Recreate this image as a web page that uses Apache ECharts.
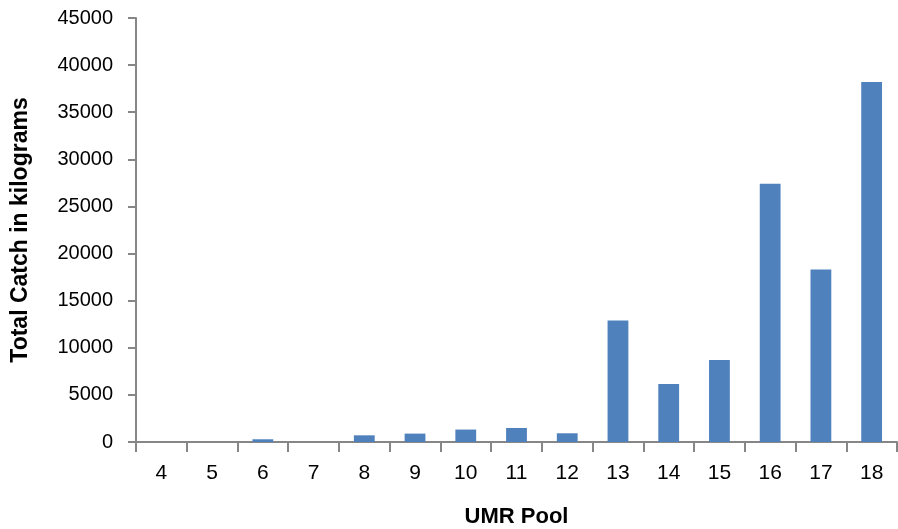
<!DOCTYPE html>
<html>
<head>
<meta charset="utf-8">
<script src="https://cdn.jsdelivr.net/npm/echarts@6/dist/echarts.min.js"></script>
<style>html,body{margin:0;padding:0;background:#fff}#c{width:898px;height:529px}</style>
</head>
<body>
<div id="c"></div>
<script>
var categories = ['4','5','6','7','8','9','10','11','12','13','14','15','16','17','18'];
var catchKg = [0, 0, 290, 0, 710, 890, 1320, 1490, 925, 12900, 6150, 8700, 27400, 18300, 38200];
var yTicks = {min: 0, max: 45000, interval: 5000};

var chart = echarts.init(document.getElementById('c'));
var font = 'Liberation Sans';
chart.setOption({
  animation: false,
  grid: {left: 136, right: 1, top: 18, bottom: 87, containLabel: false, outerBoundsMode: 'none'},
  xAxis: {
    type: 'category',
    data: categories,
    name: 'UMR Pool',
    nameLocation: 'middle',
    nameGap: 64,
    nameTextStyle: {fontFamily: font, fontWeight: 'bold', fontSize: 22, color: '#000'},
    axisLine: {lineStyle: {color: '#868686', width: 2}},
    axisTick: {show: true, length: 10, lineStyle: {color: '#868686', width: 2}},
    axisLabel: {fontFamily: font, fontSize: 21, color: '#000', margin: 21}
  },
  yAxis: {
    type: 'value',
    min: yTicks.min, max: yTicks.max, interval: yTicks.interval,
    name: 'Total Catch in kilograms',
    nameLocation: 'middle',
    nameGap: 104,
    nameTextStyle: {fontFamily: font, fontWeight: 'bold', fontSize: 23, color: '#000'},
    axisLine: {show: true, lineStyle: {color: '#868686', width: 2}},
    axisTick: {show: true, length: 8, lineStyle: {color: '#868686', width: 2}},
    axisLabel: {fontFamily: font, fontSize: 20, color: '#000', margin: 23,
      formatter: function (v) { return String(v); }},
    splitLine: {show: false}
  },
  series: [{
    type: 'bar',
    data: catchKg,
    barWidth: '41%',
    itemStyle: {color: '#4F81BD'}
  }]
});
</script>
</body>
</html>
